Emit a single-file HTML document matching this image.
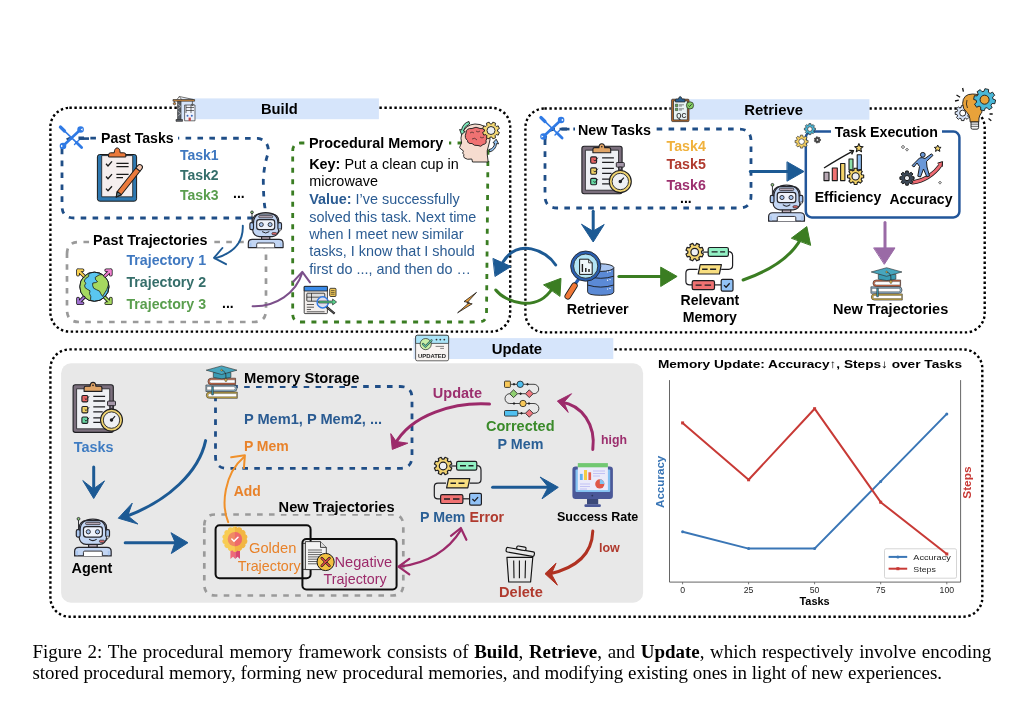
<!DOCTYPE html>
<html><head><meta charset="utf-8">
<style>
html,body{margin:0;padding:0;background:#fff;width:1024px;height:713px;overflow:hidden}
svg{position:absolute;left:0;top:0;will-change:transform}
text{font-family:"Liberation Sans",sans-serif}
.b{font-weight:bold}
.cap{font-family:"Liberation Serif",serif;font-size:18.95px;fill:#000}
</style></head><body>
<svg width="1024" height="713" viewBox="0 0 1024 713">
<defs>
<filter id="rough" x="-10%" y="-10%" width="120%" height="120%">
<feTurbulence type="fractalNoise" baseFrequency="0.9" numOctaves="2" seed="3" result="n"/>
<feDisplacementMap in="SourceGraphic" in2="n" scale="1.2" xChannelSelector="R" yChannelSelector="G"/>
</filter>
<!-- robot: local box 0..36 x 0..37 -->
<g id="robot" stroke="#26262c" stroke-width="1.15" stroke-linejoin="round">
<line x1="4.3" y1="1.5" x2="4.3" y2="11" stroke-width="0.9"/>
<circle cx="4.3" cy="1.3" r="1.35" fill="#8cc878" stroke-width="0.8"/>
<rect x="13.9" y="24.5" width="8.2" height="4" fill="#b8a8b4"/>
<rect x="5" y="3" width="26" height="22.6" rx="6.5" fill="#c3d6f4"/>
<path d="M5.8 12.5 Q5.8 1.6 18 1.6 Q30.2 1.6 30.2 12.5" fill="none" stroke-width="1.1"/>
<rect x="11" y="4.6" width="14" height="2.2" rx="1" fill="#b8a8b4" stroke-width="0.7"/>
<rect x="2.2" y="11.6" width="3.6" height="7" rx="1.4" fill="#a9c6f0"/>
<rect x="30.2" y="11.6" width="3.6" height="7" rx="1.4" fill="#a9c6f0"/>
<rect x="9" y="8.6" width="18" height="10" rx="2.6" fill="#eef2fb"/>
<circle cx="13.6" cy="13.6" r="2" fill="#a9c6f0" stroke-width="0.9"/>
<circle cx="22.4" cy="13.6" r="2" fill="#a9c6f0" stroke-width="0.9"/>
<path d="M14.4 20.6 Q18 23.4 21.6 20.6" fill="none" stroke-width="1"/>
<path d="M32 18.6 Q32 22.2 29 22.6" fill="none" stroke-width="0.9"/>
<circle cx="32.2" cy="18.8" r="1.1" fill="#fff" stroke-width="0.6"/>
<rect x="24.2" y="21.6" width="4.8" height="2.1" rx="1" fill="#e46a6a" stroke-width="0.7"/>
<path d="M0.6 36.6 V32.2 Q0.6 28.4 4.6 28.4 H31.4 Q35.4 28.4 35.4 32.2 V36.6 Z" fill="#c3d6f4"/>
<path d="M9 36.6 V33.2 Q9 32 10.2 32 H25.8 Q27 32 27 33.2 V36.6" fill="#fff" stroke-width="0.9"/>
<path d="M3 36 V31.8 M33 36 V31.8" stroke="#a9c6f0" stroke-width="1.6"/>
</g>
<!-- clipboard with stopwatch: local origin = (72.7,381.8) -->
<g id="clipsw" stroke="#1e1e22" stroke-width="1.1" stroke-linejoin="round">
<rect x="0.4" y="3" width="40.2" height="47.6" rx="2.2" fill="#7b6f7d"/>
<rect x="3.9" y="7" width="33.1" height="40" fill="#eef0f4" stroke-width="0.8"/>
<path d="M11.4 9.6 H29.2 V6.2 Q29.2 4.4 27.4 4.4 H23.2 Q23 0.6 20.3 0.6 Q17.6 0.6 17.4 4.4 H13.2 Q11.4 4.4 11.4 6.2 Z" fill="#e0a466"/>
<circle cx="20.3" cy="3.6" r="0.8" fill="#1e1e22" stroke="none"/>
<rect x="9.2" y="13.7" width="5.9" height="6.4" rx="1.2" fill="#e86464"/>
<rect x="9.2" y="24.7" width="5.9" height="6.4" rx="1.2" fill="#f0d266"/>
<rect x="9.2" y="35.2" width="5.9" height="6.4" rx="1.2" fill="#68d8a4"/>
<path d="M12 16.5 l1.4 1.4 l3 -3.4 M12 27.5 l1.4 1.4 l3 -3.4 M12 38 l1.4 1.4 l3 -3.4" fill="none" stroke-width="0.9"/>
<path d="M20.6 14.6 H32.4 M20.6 19.2 H32.4 M20.6 25.1 H32.4 M20.6 30.1 H30 M20.6 36 H28 M20.6 40.6 H28" fill="none" stroke-width="1.3"/>
<rect x="34.8" y="19.3" width="8" height="4.6" rx="0.8" fill="#a496a8" stroke-width="0.9"/>
<rect x="37.6" y="23.9" width="2.4" height="2.6" fill="#a496a8" stroke-width="0.7"/>
<circle cx="38.8" cy="38.3" r="11" fill="#f0d470" stroke-width="1.1"/>
<circle cx="38.8" cy="38.3" r="8.2" fill="#eef0f4" stroke-width="0.9"/>
<path d="M38.8 38.3 L42.4 34.4" stroke-width="1.2"/>
<circle cx="38.8" cy="38.3" r="1.2" fill="#1e1e22"/>
</g>
<!-- flowchart (P Mem): local origin (425,450) -->
<g id="flow" stroke="#1e1e22" stroke-width="1.2" stroke-linejoin="round" fill="none">
<path d="M51.8 15.6 Q56 15.6 56 20 V29.5 Q56 33.2 52 33.2 H44.6"/>
<path d="M21 33.2 H13 Q9.3 33.2 9.3 37 V45.5 Q9.3 48.8 13 48.8 H15.6"/>
<path d="M37.9 48.8 H44.6"/>
<path d="M26 16 H31.6"/>
<path d="M24.95 16.84 L26.79 17.94 L25.61 20.77 L23.54 20.25 L22.35 21.44 L22.87 23.51 L20.04 24.69 L18.94 22.85 L17.26 22.85 L16.16 24.69 L13.33 23.51 L13.85 21.44 L12.66 20.25 L10.59 20.77 L9.41 17.94 L11.25 16.84 L11.25 15.16 L9.41 14.06 L10.59 11.23 L12.66 11.75 L13.85 10.56 L13.33 8.49 L16.16 7.31 L17.26 9.15 L18.94 9.15 L20.04 7.31 L22.87 8.49 L22.35 10.56 L23.54 11.75 L25.61 11.23 L26.79 14.06 L24.95 15.16 Z" fill="#f2d472"/>
<circle cx="18.1" cy="16" r="3.8" fill="#eef0f4"/>
<rect x="31.6" y="11.4" width="20.2" height="8.8" rx="1.6" fill="#92f0c4"/>
<path d="M23.6 28.6 H44.8 L42.8 37.9 H21.6 Z" fill="#f8de80"/>
<rect x="15.6" y="44.6" width="22.3" height="8.9" rx="1.6" fill="#f07272"/>
<rect x="44.6" y="43.3" width="11.8" height="11.8" rx="1.4" fill="#92c2f6"/>
<path d="M35 15.8 H41 M43.5 15.8 H48.5 M25.5 33.2 H31 M33.5 33.2 H39.5 M19 49 H25 M28 49 H34.5" stroke-width="1.4"/>
<path d="M47.4 49 l2.1 2.1 l3.6 -4" stroke-width="1.3"/>
</g>
<!-- books with grad cap: local origin (871,267.5), size ~32x33 -->
<g id="books" stroke="#2a2a2a" stroke-width="0.6" stroke-linejoin="round">
<path d="M31.7 26.5 H3.8 A3.1 3.1 0 0 0 3.8 32.7 H31.7 Z" fill="#d6b648"/>
<path d="M31 28 H4 A1.6 1.6 0 0 0 4 31.2 H31 Z" fill="#fff" stroke-width="0.4"/>
<path d="M0.3 19.4 H28.2 A3.25 3.25 0 0 1 28.2 25.9 H0.3 Z" fill="#8fb4cc"/>
<path d="M1.2 21 H28 A1.65 1.65 0 0 1 28 24.3 H1.2 Z" fill="#fff" stroke-width="0.4"/>
<path d="M30 12.6 H5.6 A3.25 3.25 0 0 0 5.6 19.1 H30 Z" fill="#d46c48"/>
<path d="M29.4 14.2 H5.6 A1.65 1.65 0 0 0 5.6 17.5 H29.4 Z" fill="#fff" stroke-width="0.4"/>
<rect x="6.1" y="21" width="1.7" height="8.4" fill="#3a9cb4" stroke-width="0.5"/>
<path d="M7.7 7 V11.8 Q16 14.6 25.3 11.8 V7 Z" fill="#3a9cb4"/>
<path d="M0.6 4.6 L16 0.3 L31.4 4.6 L16 8.9 Z" fill="#47a6be"/>
<path d="M16 4.6 Q20.6 6 20.3 10.5 V13.6" fill="none" stroke="#222" stroke-width="0.7"/>
<rect x="19.3" y="12.8" width="2" height="3.2" rx="0.8" fill="#e8c050" stroke-width="0.5"/>
<circle cx="16" cy="4.6" r="0.9" fill="#e8c050" stroke-width="0.4"/>
</g>
</defs>
<!-- ===== outer dotted boxes ===== -->
<g fill="none" stroke="#000" stroke-width="2.4" stroke-dasharray="2.4 2.6">
<rect x="50.4" y="107.8" width="459.8" height="223.8" rx="19"/>
<rect x="525.4" y="108.5" width="459.3" height="223.9" rx="19"/>
<rect x="50.4" y="349.4" width="931.9" height="267.3" rx="19"/>
</g>
<!-- header bars -->
<rect x="181" y="98.4" width="197.9" height="20.8" fill="#d6e5fb"/>
<rect x="670.7" y="99.2" width="198.7" height="20.5" fill="#d6e5fb"/>
<rect x="413.5" y="338.1" width="199.8" height="20.9" fill="#d6e5fb"/>
<text class="b" x="261" y="114" font-size="14.7">Build</text>
<text class="b" x="744.3" y="115" font-size="14.9">Retrieve</text>
<text class="b" x="491.7" y="354" font-size="14.9">Update</text>

<!-- update gray panel -->
<rect x="61.1" y="363.2" width="582" height="239.6" rx="10" fill="#e8e8e8"/>

<!-- ===== BUILD ===== -->
<path d="M62 150 Q62 138 74 138 L258 138.3 Q268.5 140 268.5 152 Q264 165 263.3 180 Q263.5 200 265 208 Q265 218 256 218 L74 218 Q62 218 62 206 Z" fill="none" stroke="#1f4e87" stroke-width="2.8" stroke-dasharray="5.6 6.3"/>
<path d="M67 254 Q67 242 79 242 L254 242 Q266 242 266 254 L266 310 Q266 322 254 322 L79 322 Q67 322 67 310 Z" fill="none" stroke="#9a9a9a" stroke-width="2.7" stroke-dasharray="5.6 6.3"/>
<path d="M292.7 151 Q292.7 143 300.7 143 L479 143 Q488 143 488 151 L486.5 314 Q486.5 322 478.5 322 L300.7 322 Q292.7 322 292.7 314 Z" fill="none" stroke="#3a7d22" stroke-width="2.8" stroke-dasharray="5 6.3"/>

<rect x="98" y="131" width="80" height="16" fill="#fff"/>
<text class="b" x="101" y="142.8" font-size="14.1">Past Tasks</text>
<text class="b" x="180" y="160" font-size="14" fill="#3f78c0">Task1</text>
<text class="b" x="180" y="179.7" font-size="14" fill="#356e6a">Task2</text>
<text class="b" x="180" y="200.1" font-size="14" fill="#5a9e4e">Task3</text>
<text class="b" x="233" y="198" font-size="14">...</text>
<rect x="90" y="232" width="122" height="16" fill="#fff"/>
<text class="b" x="93" y="245" font-size="14.3">Past Trajectories</text>
<text class="b" x="126.4" y="265" font-size="14.2" fill="#3f78c0">Trajectory 1</text>
<text class="b" x="126.4" y="286.7" font-size="14.2" fill="#356e6a">Trajectory 2</text>
<text class="b" x="126.4" y="308.6" font-size="14.2" fill="#5a9e4e">Trajectory 3</text>
<text class="b" x="222" y="308" font-size="14">...</text>

<rect x="306" y="135" width="143" height="16" fill="#fff"/>
<text class="b" x="309" y="147.6" font-size="14.4">Procedural Memory</text>
<g font-size="14.4" transform="translate(-0.8,0)">
<text x="310" y="169"><tspan class="b">Key:</tspan> Put a clean cup in</text>
<text x="310" y="186.4">microwave</text>
<text x="310" y="204" fill="#2a5b92"><tspan class="b">Value:</tspan> I’ve successfully</text>
<text x="310" y="221.8" fill="#2a5b92">solved this task. Next time</text>
<text x="310" y="238.5" fill="#2a5b92">when I meet new similar</text>
<text x="310" y="255.7" fill="#2a5b92">tasks, I know that I should</text>
<text x="310" y="273.5" fill="#2a5b92">first do ..., and then do …</text>
</g>

<!-- ===== RETRIEVE ===== -->
<path d="M545 141 Q545 129 557 129 L739 129 Q751 129 751 141 L751 196 Q751 208 739 208 L557 208 Q545 208 545 196 Z" fill="none" stroke="#1f4e87" stroke-width="2.8" stroke-dasharray="5.6 6.3"/>
<rect x="575" y="122" width="80" height="16" fill="#fff"/>
<text class="b" x="578" y="135" font-size="14.3">New Tasks</text>
<text class="b" x="666.6" y="150.6" font-size="14.2" fill="#f0b13c">Task4</text>
<text class="b" x="666.6" y="169" font-size="14.2" fill="#b03a2e">Task5</text>
<text class="b" x="666.6" y="189.7" font-size="14.2" fill="#9c2f6e">Task6</text>
<text class="b" x="680" y="203" font-size="14">...</text>
<text class="b" x="566.7" y="314" font-size="14.3">Retriever</text>
<text class="b" x="680.5" y="305" font-size="14.1">Relevant</text>
<text class="b" x="682.7" y="322.3" font-size="14.1">Memory</text>

<rect x="805.8" y="131.6" width="153.6" height="85.8" rx="6" fill="none" stroke="#24579a" stroke-width="2.5" filter="url(#rough)"/>
<rect x="831" y="124" width="111" height="16" fill="#fff"/>
<text class="b" x="834.8" y="136.8" font-size="14.2">Task Execution</text>
<text class="b" x="814.7" y="202.3" font-size="14.1">Efficiency</text>
<text class="b" x="889.4" y="203.5" font-size="14">Accuracy</text>
<text class="b" x="833" y="314.2" font-size="14.5">New Trajectories</text>

<!-- ===== UPDATE ===== -->
<text class="b" x="73.7" y="452.4" font-size="14.4" fill="#3f7cc2">Tasks</text>
<text class="b" x="71.5" y="572.7" font-size="14.4">Agent</text>
<path d="M215.5 398 Q215.5 386.5 227 386.5 L400 386.5 Q412 386.5 412 398 L412 456.5 Q412 468.4 400 468.4 L227 468.4 Q215.5 468.4 215.5 456.5 Z" fill="none" stroke="#1f4e87" stroke-width="2.8" stroke-dasharray="5.6 6.3"/>
<rect x="242" y="370" width="120" height="16" fill="#e8e8e8"/>
<text class="b" x="243.9" y="383.4" font-size="14.75">Memory Storage</text>
<text class="b" x="243.9" y="424" font-size="14.6" fill="#2a5b92">P Mem1, P Mem2, ...</text>
<text class="b" x="243.9" y="451" font-size="14" fill="#e8822a">P Mem</text>
<text class="b" x="233.7" y="496.3" font-size="13.9" fill="#e8822a">Add</text>
<path d="M204.3 525.5 Q204.3 514.5 215.3 514.5 L392.3 514.5 Q403.3 514.5 403.3 525.5 L403.3 584.5 Q403.3 595.5 392.3 595.5 L215.3 595.5 Q204.3 595.5 204.3 584.5 Z" fill="none" stroke="#9a9a9a" stroke-width="2.7" stroke-dasharray="5.6 6.3"/>
<rect x="275" y="498" width="123" height="16" fill="#e8e8e8"/>
<text class="b" x="278.6" y="511.5" font-size="14.6">New Trajectories</text>
<rect x="215.6" y="525.2" width="95" height="53" rx="4" fill="none" stroke="#111" stroke-width="2" filter="url(#rough)"/>
<rect x="302.4" y="539" width="94.2" height="50.5" rx="4" fill="none" stroke="#111" stroke-width="2" filter="url(#rough)"/>
<text x="249" y="553.2" font-size="14.7" fill="#e8822a">Golden</text>
<text x="237.7" y="571" font-size="14.3" fill="#e8822a">Trajectory</text>
<text x="334.5" y="567.2" font-size="14.6" fill="#9c2a6a">Negative</text>
<text x="323.6" y="584" font-size="14.3" fill="#9c2a6a">Trajectory</text>
<text class="b" x="432.8" y="398" font-size="14.5" fill="#9c2f6e">Update</text>
<text class="b" x="486" y="431" font-size="14.5" fill="#3a8a2a">Corrected</text>
<text class="b" x="497.6" y="448.6" font-size="14.3" fill="#2a5f95">P Mem</text>
<text class="b" x="601" y="444.4" font-size="12.3" fill="#9c2f6e">high</text>
<text class="b" x="420" y="521.5" font-size="14.2" fill="#2a5f95">P Mem <tspan fill="#b03a2e">Error</tspan></text>
<text class="b" x="557" y="521" font-size="12.5">Success Rate</text>
<text class="b" x="599" y="551.7" font-size="12.5" fill="#b03a2e">low</text>
<text class="b" x="499" y="597.2" font-size="14.6" fill="#b03a2e">Delete</text>

<!-- ===== CHART ===== -->
<g id="chart">
<text class="b" x="657.9" y="368.1" font-size="11.4" textLength="304.1" lengthAdjust="spacingAndGlyphs">Memory Update: Accuracy↑, Steps↓ over Tasks</text>
<path d="M669.5 380.1 V582.1 H960.6 V380.1" fill="none" stroke="#555" stroke-width="0.9"/>
<path d="M682.6 582.1 v2.2 M748.6 582.1 v2.2 M814.6 582.1 v2.2 M880.7 582.1 v2.2 M946.8 582.1 v2.2" stroke="#555" stroke-width="0.8"/>
<polyline points="682.6,531.7 748.6,548.6 814.6,548.6 880.7,481.4 946.8,413.9" fill="none" stroke="#3a76b6" stroke-width="2" stroke-linejoin="round"/>
<circle cx="682.6" cy="531.7" r="1.5" fill="#3a76b6"/><circle cx="748.6" cy="548.6" r="1.5" fill="#3a76b6"/><circle cx="814.6" cy="548.6" r="1.5" fill="#3a76b6"/><circle cx="880.7" cy="481.4" r="1.5" fill="#3a76b6"/><circle cx="946.8" cy="413.9" r="1.5" fill="#3a76b6"/>
<rect x="884.5" y="548.8" width="72" height="29.4" rx="1.5" fill="#fff" fill-opacity="0.85" stroke="#d0d0d0" stroke-width="0.9"/>
<line x1="888.6" y1="556.9" x2="907.2" y2="556.9" stroke="#3a76b6" stroke-width="2"/>
<circle cx="897.9" cy="556.9" r="1.5" fill="#3a76b6"/>
<line x1="888.6" y1="568.7" x2="907.2" y2="568.7" stroke="#c83a36" stroke-width="2"/>
<rect x="896.4" y="567.2" width="3" height="3" fill="#c83a36"/>
<text x="913.3" y="559.8" font-size="8" fill="#262626" textLength="37.5" lengthAdjust="spacingAndGlyphs">Accuracy</text>
<text x="913.3" y="571.6" font-size="8" fill="#262626" textLength="22.6" lengthAdjust="spacingAndGlyphs">Steps</text>
<polyline points="682.6,422.9 748.6,479.8 814.6,408.7 880.7,502.2 946.8,554" fill="none" stroke="#c83a36" stroke-width="2" stroke-linejoin="round"/>
<rect x="681.1" y="421.4" width="3" height="3" fill="#c83a36"/><rect x="747.1" y="478.3" width="3" height="3" fill="#c83a36"/><rect x="813.1" y="407.2" width="3" height="3" fill="#c83a36"/><rect x="879.2" y="500.7" width="3" height="3" fill="#c83a36"/><rect x="945.3" y="552.5" width="3" height="3" fill="#c83a36"/>
<g font-size="8.7" fill="#262626" text-anchor="middle">
<text x="682.7" y="593.4">0</text><text x="748.6" y="593.4">25</text><text x="814.6" y="593.4">50</text><text x="880.7" y="593.4">75</text><text x="946.8" y="593.4">100</text>
</g>
<text class="b" x="799.4" y="605.2" font-size="10.5" textLength="30.3" lengthAdjust="spacingAndGlyphs">Tasks</text>
<text class="b" font-size="10.4" fill="#3a76b6" text-anchor="middle" textLength="52.3" lengthAdjust="spacingAndGlyphs" transform="translate(664.4,481.85) rotate(-90)">Accuracy</text>
<text class="b" font-size="10.6" fill="#c83a36" text-anchor="middle" textLength="32.4" lengthAdjust="spacingAndGlyphs" transform="translate(971,482.6) rotate(-90)">Steps</text>
</g>

<!-- ===== ARROWS ===== -->
<g fill="none" stroke-linecap="round" stroke-linejoin="round" filter="url(#rough)">
<!-- build -->
<path d="M242.8 225.6 C243.5 242, 234 253, 215 258.4" stroke="#1f5a94" stroke-width="1.9"/>
<path d="M222.4 248 L214 257.9 L226 264.2" stroke="#1f5a94" stroke-width="1.9"/>
<path d="M252.6 306.2 C276 307, 296 293, 302.3 272.6" stroke="#7b4f8a" stroke-width="2"/>
<path d="M293.2 281.7 L302.3 271.9 L310 282.4" stroke="#7b4f8a" stroke-width="2"/>
<!-- between -->
<path d="M555.7 265 C546 250, 518 238, 503 262" stroke="#1f5a94" stroke-width="3"/>
<path d="M493.3 258.6 L511 266.5 L495.3 276.3 Z" fill="#1f5a94" stroke="#1f5a94" stroke-width="1"/>
<path d="M495.8 290 C505 302, 536 313, 552 289" stroke="#3a7d22" stroke-width="3"/>
<path d="M543.9 284.7 L561 278.3 L560 296 Z" fill="#3a7d22" stroke="#3a7d22" stroke-width="1"/>
<!-- retrieve -->
<path d="M593.2 211.2 V236" stroke="#1f5a94" stroke-width="3"/>
<path d="M581.7 224.5 L593.2 242 L604.2 224.5 L593.2 231 Z" fill="#1f5a94" stroke="#1f5a94" stroke-width="1"/>
<path d="M618.9 276.4 H665" stroke="#3a7d22" stroke-width="3"/>
<path d="M661 267.3 L677.1 276.4 L661 286.3 Z" fill="#3a7d22" stroke="#3a7d22" stroke-width="1"/>
<path d="M743.1 280 C766 272, 790 259, 801 238.5" stroke="#3a7d22" stroke-width="3"/>
<path d="M791.6 238 L806.8 226.6 L810.6 245 Z" fill="#3a7d22" stroke="#3a7d22" stroke-width="1"/>
<path d="M750.3 171.5 H790" stroke="#1f5a94" stroke-width="3"/>
<path d="M787.3 162 L804 171.5 L787.3 181 Z" fill="#1f5a94" stroke="#1f5a94" stroke-width="1"/>
<path d="M885 222.6 V250" stroke="#9a6aa6" stroke-width="3"/>
<path d="M874 247.9 L895 247.9 L884.5 264 Z" fill="#9a6aa6" stroke="#9a6aa6" stroke-width="1"/>
<!-- update -->
<path d="M93.7 467.1 V492" stroke="#1f5a94" stroke-width="3"/>
<path d="M83 480.9 L93.7 498.5 L104.5 480.9 L93.7 488.7 Z" fill="#1f5a94" stroke="#1f5a94" stroke-width="1"/>
<path d="M205.6 440.6 C199 472, 168 501, 126 516.5" stroke="#1f5a94" stroke-width="3"/>
<path d="M132 503.4 L118.3 518.2 L137.9 524 L128 516 Z" fill="#1f5a94" stroke="#1f5a94" stroke-width="1"/>
<path d="M125.2 542.7 H176" stroke="#1f5a94" stroke-width="3"/>
<path d="M171.3 532.9 L188 542.7 L171.3 553.5 L175 542.7 Z" fill="#1f5a94" stroke="#1f5a94" stroke-width="1"/>
<path d="M228.2 522.1 C221 505, 224 474, 244 457" stroke="#f0902a" stroke-width="2"/>
<path d="M231.2 457.3 L244.9 455.3 L243.9 468.1" stroke="#f0902a" stroke-width="2"/>
<path d="M489.5 404.1 C455 402, 411 414, 394.5 445" stroke="#9c2a6a" stroke-width="3"/>
<path d="M390.8 434 L392.3 449.4 L407.8 443.2 L396.5 441.5 Z" fill="#9c2a6a" stroke="#9c2a6a" stroke-width="1"/>
<path d="M592.8 449.4 C596 425, 582 405, 561 402" stroke="#9c2a6a" stroke-width="3"/>
<path d="M571.2 393.9 L557.4 401 L568.2 412.4 L564 402.5 Z" fill="#9c2a6a" stroke="#9c2a6a" stroke-width="1"/>
<path d="M492.6 487.3 H548" stroke="#1f5a94" stroke-width="3"/>
<path d="M540.4 477.2 L558.3 487.3 L542 498.8 L548.1 487.3 Z" fill="#1f5a94" stroke="#1f5a94" stroke-width="1"/>
<path d="M592.8 531.1 C592 555, 576 568, 549 574" stroke="#b03020" stroke-width="3"/>
<path d="M555.8 563.5 L545 573.7 L557.4 585.1 L551.5 574.2 Z" fill="#b03020" stroke="#b03020" stroke-width="1"/>
<path d="M400 566.6 Q442 561, 461.2 529.6" stroke="#9c2a6a" stroke-width="2.2"/>
<path d="M409.3 558.9 L398.5 566.6 L409.3 574.3" stroke="#9c2a6a" stroke-width="2.2"/>
<path d="M451 535.8 L460.8 528 L466.4 539.8" stroke="#9c2a6a" stroke-width="2.2"/>
</g>

<!-- ===== ICONS ===== -->
<!-- tools symbol uses -->
<g id="tools-b">
<g stroke="#2f7ae5" stroke-linecap="round" fill="none">
<line x1="61" y1="127.6" x2="81.6" y2="147.4" stroke-width="1.5"/>
<line x1="60.4" y1="127" x2="64.5" y2="131" stroke-width="3.2"/>
<line x1="76.5" y1="142.4" x2="81.6" y2="147.4" stroke-width="2.8"/>
<line x1="74.5" y1="144.5" x2="79" y2="140" stroke-width="1.4"/>
<line x1="63.5" y1="145.5" x2="80" y2="130" stroke-width="2.6"/>
</g>
<circle cx="80.6" cy="129.5" r="3.3" fill="#2f7ae5"/>
<circle cx="63" cy="146" r="3.3" fill="#2f7ae5"/>
<path d="M80.6 129.5 l2 -1.2 v2.4 z M63 146 l-2 1.2 v-2.4 z" fill="#fff"/>
<rect x="79" y="137.3" width="10" height="2.6" fill="#1f4e87"/>
</g>
<use href="#tools-b" transform="translate(480.5,-9.5)"/>

<!-- crane -->
<g stroke="#333" stroke-width="0.7" stroke-linejoin="round">
<rect x="184.6" y="105" width="10.4" height="15.8" fill="#eef2fb"/>
<path d="M186 105 V113 M191 105 V113 M186 107.5 H194 M186 110.5 H194" fill="none"/>
<circle cx="187.5" cy="115.7" r="1" fill="#3a6ac0" stroke="none"/>
<circle cx="191.8" cy="115.7" r="1" fill="#3a6ac0" stroke="none"/>
<rect x="188.6" y="117.6" width="2.2" height="3.2" fill="#c04040" stroke="none"/>
<rect x="177.6" y="101" width="3.4" height="19.2" fill="#5a6068"/>
<path d="M177.6 104 L181 106.5 M181 106.5 L177.6 109 M177.6 111 L181 113.5 M181 113.5 L177.6 116" stroke="#ddd" stroke-width="0.5"/>
<rect x="173" y="99.5" width="21.6" height="1.7" fill="#d48a3a"/>
<path d="M177 99.5 L179.3 96.5 L181.6 99.5 M179.3 96.5 L193.5 99.5" fill="none"/>
<line x1="174.5" y1="101.2" x2="174.5" y2="102.8"/>
<circle cx="174.5" cy="103.6" r="1.2" fill="#d48a3a"/>
<line x1="192.4" y1="101.2" x2="192.4" y2="104.6"/>
<path d="M191.4 104.4 h2 l-1 1.6 z" fill="#ccc"/>
<rect x="176" y="119.5" width="6.6" height="1.8" fill="#5a6068"/>
</g>

<!-- clipboard + pencil (build) -->
<g stroke="#1a1a1a" stroke-width="1" stroke-linejoin="round">
<rect x="97.4" y="154.5" width="39.2" height="46.7" rx="2.4" fill="#2e78b0"/>
<rect x="101.7" y="155.6" width="31" height="41.2" fill="#f5eeee" stroke-width="0.8"/>
<path d="M108.6 157 H125.8 V154.8 Q125.8 152.8 123.8 152.8 H120.2 Q119.8 147.9 117.2 147.9 Q114.6 147.9 114.2 152.8 H110.6 Q108.6 152.8 108.6 154.8 Z" fill="#ec7a3c"/>
<path d="M106 163.8 l2 2.2 l4 -4.6 M106 176.5 l2 2.2 l4 -4.6 M106 188.6 l2 2.2 l4 -4.6" fill="none" stroke-width="1.3"/>
<path d="M116.4 163.3 H128.6 M116.4 166.6 H128.6 M116.4 174.3 H128.6 M116.4 177.6 H123" fill="none" stroke-width="1.3"/>
<g transform="translate(116.2,197) rotate(-51.6)">
<path d="M0 0 L5 -2.6 H35 V2.6 H5 Z" fill="#ec7a3c"/>
<path d="M0 0 L5 -2.6 V2.6 Z" fill="#5a7a88"/>
<path d="M35 -2.6 H38 Q40.6 -2.6 40.6 0 Q40.6 2.6 38 2.6 H35 Z" fill="#f6c8b0"/>
</g>
</g>

<!-- globe -->
<g stroke="#1a1a1a" stroke-width="0.9" stroke-linejoin="round">
<circle cx="94.4" cy="286.7" r="14.6" fill="#5ac6f0"/>
<clipPath id="gclip"><circle cx="94.4" cy="286.7" r="14.2"/></clipPath>
<g clip-path="url(#gclip)" stroke-width="0.8">
<path d="M78 272 L89.5 272 Q88.5 275 88.6 276.6 Q85.5 278 84.6 280 Q83.8 282 86 283.2 Q83.8 285 85 287.6 Q87.2 289.4 90 290.8 Q88.6 293.6 90.8 296.6 Q90.2 299 91 302 L78 302 Z" fill="#a6d860"/>
<path d="M95.2 277.4 Q99 274 103.2 274.4 Q107.4 276 108.8 281 Q108.6 286 106.8 289.6 Q104.6 293 102.6 296.4 Q100.4 293.6 99.6 291.2 Q96.2 289.6 93.6 288.2 Q92 285.2 92.8 283 Q96.4 282.8 97.6 281.6 Q95 280.2 95.2 277.4 Z" fill="#a6d860"/>
</g>
<circle cx="94.4" cy="286.7" r="14.6" fill="none"/>
<path d="M83.7 275.8 L78 270.2 M78 270.2 l0 4.6 M78 270.2 l4.6 0" fill="none" stroke="#1a1a1a" stroke-width="3.6" stroke-linecap="round"/>
<path d="M83.7 275.8 L78 270.2 M78 270.2 l0 4.6 M78 270.2 l4.6 0" fill="none" stroke="#f8d050" stroke-width="2" stroke-linecap="round"/>
<path d="M105.1 275.8 L110.8 270.2 M110.8 270.2 l0 4.6 M110.8 270.2 l-4.6 0" fill="none" stroke="#1a1a1a" stroke-width="3.6" stroke-linecap="round"/>
<path d="M105.1 275.8 L110.8 270.2 M110.8 270.2 l0 4.6 M110.8 270.2 l-4.6 0" fill="none" stroke="#f080d0" stroke-width="2" stroke-linecap="round"/>
<path d="M83.7 297.6 L78 303.2 M78 303.2 l0 -4.6 M78 303.2 l4.6 0" fill="none" stroke="#1a1a1a" stroke-width="3.6" stroke-linecap="round"/>
<path d="M83.7 297.6 L78 303.2 M78 303.2 l0 -4.6 M78 303.2 l4.6 0" fill="none" stroke="#a070d0" stroke-width="2" stroke-linecap="round"/>
<path d="M105.1 297.6 L110.8 303.2 M110.8 303.2 l0 -4.6 M110.8 303.2 l-4.6 0" fill="none" stroke="#1a1a1a" stroke-width="3.6" stroke-linecap="round"/>
<path d="M105.1 297.6 L110.8 303.2 M110.8 303.2 l0 -4.6 M110.8 303.2 l-4.6 0" fill="none" stroke="#a6d860" stroke-width="2" stroke-linecap="round"/>
</g>

<!-- brain head -->
<g stroke="#1a1a1a" stroke-width="0.9" stroke-linejoin="round">
<path d="M461.8 133.5 Q466 124.5 475 124 Q486 124 489.5 133 Q491 140 488.5 146 Q486.5 151 487.3 155 L488.2 162 H472.5 L471.8 159 Q467 160 464.5 158 Q463.2 156.5 463.8 154.5 L462.6 153 L463.4 151.6 L462.6 150 Q460.6 149.4 459.6 147.5 Q460.4 145 461.6 143 Q460.2 138 461.8 133.5 Z" fill="#f6dccf"/>
<path d="M466 133 Q466 128 472 128.5 Q476 126 480 128.5 Q486 128 486 134 Q489 137 486 140.5 Q487 144 483 144.5 Q481 147.5 478 145.5 Q474 146 472 143.5 Q467.5 144 467.5 140.5 Q464 138 466 133 Z" fill="#f07272"/>
<path d="M470 133 q2 -2 4 0 M476 131 q2 2 4 0 M472 139 q3 -2 5 1 M480 137 q2 2 4 0" fill="none" stroke-width="0.6"/>
<path d="M497.55 131.31 L499.39 132.38 L498.26 135.11 L496.20 134.56 L495.06 135.70 L495.61 137.76 L492.88 138.89 L491.81 137.05 L490.19 137.05 L489.12 138.89 L486.39 137.76 L486.94 135.70 L485.80 134.56 L483.74 135.11 L482.61 132.38 L484.45 131.31 L484.45 129.69 L482.61 128.62 L483.74 125.89 L485.80 126.44 L486.94 125.30 L486.39 123.24 L489.12 122.11 L490.19 123.95 L491.81 123.95 L492.88 122.11 L495.61 123.24 L495.06 125.30 L496.20 126.44 L498.26 125.89 L499.39 128.62 L497.55 129.69 Z" fill="#f4d874"/>
<circle cx="491" cy="130.5" r="4" fill="#eceef2"/>
<path d="M469 121.5 Q463 123 461.5 130 L459.6 129.5 L461.6 134.6 L465.2 131.5 L463.4 131 Q464.5 126 469.6 124 Z" fill="#7ae4b8"/>
<path d="M489.6 152 Q496 150 496.5 143.6 L498.6 143.8 L496.2 139.2 L493 142.8 L494.6 143.2 Q494 148.6 489 149.6 Z" fill="#94c4f4"/>
</g>

<!-- search doc -->
<g stroke="#1a1a1a" stroke-width="0.8" stroke-linejoin="round">
<rect x="304.2" y="286.4" width="23.2" height="27.2" rx="0.8" fill="#f2eeec"/>
<rect x="304.2" y="286.4" width="23.2" height="4.6" fill="#3a8ae8"/>
<rect x="306.8" y="293.2" width="18" height="8" rx="0.8" fill="#ddd"/>
<path d="M306.8 297.2 H324.8 M311.5 293.2 V301.2 M306.8 304.5 H314 M306.8 307.2 H314 M306.8 309.5 H311 M306.8 311.8 H324.6" fill="none" stroke-width="0.7"/>
<rect x="329.7" y="288.3" width="6.3" height="8.2" rx="1" fill="#f0c85a"/>
<path d="M331 290.6 h3.6 M331 292.4 h3.6 M331 294.2 h3.6" stroke-width="0.6"/>
<line x1="326.2" y1="306.6" x2="334.6" y2="313.6" stroke-width="2.2"/>
<line x1="326.2" y1="306.6" x2="334.6" y2="313.6" stroke="#666" stroke-width="1"/>
<circle cx="322.7" cy="302.4" r="5.6" fill="#dde" stroke="#2f7ae5" stroke-width="1.4"/>
<path d="M318.6 301 H332.6 V299 L336.6 302 L332.6 305 V303 H318.6 Z" fill="#58d08c" stroke-width="0.6"/>
</g>

<!-- lightning -->
<path d="M476.5 292.4 L464 301.6 L469.4 302.4 L457.6 312.8 L472.2 303.8 L466.8 303 Z" fill="#f2a23a" stroke="#1a1a1a" stroke-width="0.8" stroke-linejoin="round"/>

<!-- robots -->
<use href="#robot" transform="translate(247.7,211)"/>
<use href="#robot" transform="translate(768,183.5) scale(1.03)"/>
<use href="#robot" transform="translate(74,517.5) scale(1.05)"/>

<!-- clipboards with stopwatch -->
<use href="#clipsw" transform="translate(581.5,143.2)"/>
<use href="#clipsw" transform="translate(72.7,381.8)"/>

<!-- flowcharts -->
<use href="#flow" transform="translate(676.6,236.1)"/>
<use href="#flow" transform="translate(425,450)"/>

<!-- books -->
<use href="#books" transform="translate(870.6,267.4)"/>
<use href="#books" transform="translate(205.6,365.6)"/>


<!-- retriever -->
<g stroke="#1a1a1a" stroke-width="0.9" stroke-linejoin="round">
<path d="M587.6 267.6 V291.8 Q587.6 295.3 600.7 295.3 Q613.8 295.3 613.8 291.8 V267.6" fill="#5b8ad6"/>
<ellipse cx="600.7" cy="267.6" rx="13.1" ry="3.8" fill="#a9c5f1"/>
<path d="M587.6 276.2 Q600.7 280.4 613.8 276.2 M587.6 285 Q600.7 289.2 613.8 285" fill="none"/>
<path d="M607.5 280.2 h0.1 M610 279.6 h0.1 M607.5 289 h0.1 M610 288.4 h0.1 M607.5 272 h0.1 M610 271.4 h0.1" stroke="#fff" stroke-width="1.2" stroke-linecap="round"/>
<line x1="578.6" y1="279.2" x2="575" y2="284.4" stroke="#2a5fb0" stroke-width="3.2"/>
<line x1="574.4" y1="285.8" x2="567.8" y2="296.2" stroke="#1a1a1a" stroke-width="6.6" stroke-linecap="round"/>
<line x1="574.4" y1="285.8" x2="567.8" y2="296.2" stroke="#f07838" stroke-width="4.9" stroke-linecap="round"/>
<circle cx="585.7" cy="266.1" r="13.6" fill="#b3e5f5" stroke="#2a5fb0" stroke-width="3"/>
<circle cx="585.7" cy="266.1" r="15.1" fill="none" stroke-width="0.8"/>
<circle cx="585.7" cy="266.1" r="12.1" fill="none" stroke-width="0.8"/>
<path d="M579.6 259.2 H588.6 L592.2 262.8 V274.4 H579.6 Z" fill="#eef7fb" stroke-width="1"/>
<path d="M588.6 259.2 V262.8 H592.2" fill="none" stroke-width="0.8"/>
<path d="M582.4 264 V272 M585.8 268 V272 M589 269 V272" stroke-width="1.4"/>
</g>

<!-- QC clipboard -->
<g stroke="#222" stroke-width="0.7" stroke-linejoin="round">
<rect x="671.6" y="99.2" width="17.4" height="22.4" rx="1" fill="#b86a2a"/>
<rect x="673.5" y="100.8" width="13.9" height="19.1" fill="#e8f4f4"/>
<path d="M675.4 102 H685 V100 Q685 99 684 99 H682 Q681.5 96.5 680.2 96.5 Q678.9 96.5 678.4 99 H676.4 Q675.4 99 675.4 100 Z" fill="#2a6090"/>
<rect x="675.4" y="104.2" width="2.4" height="2.4" fill="#60b050" stroke-width="0.5"/>
<rect x="675.4" y="108.2" width="2.4" height="2.4" fill="#60b050" stroke-width="0.5"/>
<path d="M679 104.8 h5 M679 106 h3 M679 108.8 h5 M679 110 h3" stroke-width="0.5"/>
<text x="676.3" y="118" font-size="6.6" font-weight="bold" fill="#333" stroke="none">QC</text>
<circle cx="690" cy="105.4" r="3.6" fill="#84d064"/>
<path d="M688.3 105.4 l1.2 1.2 l2.2 -2.4" fill="none" stroke-width="0.8"/>
</g>

<!-- updated badge -->
<g stroke="#333" stroke-width="0.75" stroke-linejoin="round">
<rect x="415.6" y="335.3" width="33" height="25.5" rx="1.6" fill="#f8f4f2"/>
<path d="M415.6 343.4 V336.9 Q415.6 335.3 417.2 335.3 H447 Q448.6 335.3 448.6 336.9 V343.4 Z" fill="#aae4f8"/>
<circle cx="425.7" cy="344.1" r="5.6" fill="#c8f0a8"/>
<path d="M423 344 l2.4 2.6 l6 -6.2" fill="none" stroke="#333" stroke-width="2.2" stroke-linecap="round"/>
<path d="M423 344 l2.4 2.6 l6 -6.2" fill="none" stroke="#60c8a0" stroke-width="1.3" stroke-linecap="round"/>
<circle cx="436.5" cy="339.6" r="0.9" fill="#333" stroke="none"/>
<circle cx="440.3" cy="339.6" r="0.9" fill="#333" stroke="none"/>
<circle cx="444.3" cy="339.6" r="0.9" fill="#333" stroke="none"/>
<path d="M435.6 346.4 H444 M440.2 348.4 H444" stroke-width="0.6"/>
<text x="418" y="357.6" font-size="5.6" font-weight="bold" fill="#222" stroke="none" textLength="28" lengthAdjust="spacingAndGlyphs">UPDATED</text>
</g>

<!-- task exec gears -->
<g stroke="#333" stroke-width="0.7" stroke-linejoin="round">
<path d="M814.04 127.95 L815.42 128.14 L815.42 130.06 L814.04 130.25 L813.64 131.22 L814.48 132.32 L813.12 133.68 L812.02 132.84 L811.05 133.24 L810.86 134.62 L808.94 134.62 L808.75 133.24 L807.78 132.84 L806.68 133.68 L805.32 132.32 L806.16 131.22 L805.76 130.25 L804.38 130.06 L804.38 128.14 L805.76 127.95 L806.16 126.98 L805.32 125.88 L806.68 124.52 L807.78 125.36 L808.75 124.96 L808.94 123.58 L810.86 123.58 L811.05 124.96 L812.02 125.36 L813.12 124.52 L814.48 125.88 L813.64 126.98 Z" fill="#4ab8d8"/><circle cx="809.9" cy="129.1" r="2.3" fill="#fff"/>
<path d="M806.42 140.27 L808.10 140.47 L808.10 142.73 L806.42 142.93 L805.95 144.06 L807.00 145.40 L805.40 147.00 L804.06 145.95 L802.93 146.42 L802.73 148.10 L800.47 148.10 L800.27 146.42 L799.14 145.95 L797.80 147.00 L796.20 145.40 L797.25 144.06 L796.78 142.93 L795.10 142.73 L795.10 140.47 L796.78 140.27 L797.25 139.14 L796.20 137.80 L797.80 136.20 L799.14 137.25 L800.27 136.78 L800.47 135.10 L802.73 135.10 L802.93 136.78 L804.06 137.25 L805.40 136.20 L807.00 137.80 L805.95 139.14 Z" fill="#f4d062"/><circle cx="801.6" cy="141.6" r="2.8" fill="#fff"/>
<path d="M819.69 139.17 L820.54 139.27 L820.54 140.53 L819.69 140.63 L819.40 141.23 L819.85 141.96 L818.87 142.74 L818.26 142.14 L817.60 142.29 L817.31 143.10 L816.09 142.82 L816.18 141.97 L815.66 141.55 L814.85 141.83 L814.30 140.70 L815.02 140.24 L815.02 139.56 L814.30 139.10 L814.85 137.97 L815.66 138.25 L816.18 137.83 L816.09 136.98 L817.31 136.70 L817.60 137.51 L818.26 137.66 L818.87 137.06 L819.85 137.84 L819.40 138.57 Z" fill="#444"/><circle cx="817.4" cy="139.9" r="1.2" fill="#fff"/>
</g>

<!-- efficiency -->
<g stroke="#1a1a1a" stroke-width="1.1" stroke-linejoin="round">
<rect x="824" y="172.3" width="5" height="8.3" fill="#b8a8b4"/>
<rect x="832.3" y="168" width="5" height="12.6" fill="#f07272"/>
<rect x="840.6" y="163.5" width="4.3" height="17.1" fill="#f4d46a"/>
<rect x="849" y="159" width="4" height="11" fill="#8ce0a8"/>
<rect x="857.2" y="154.8" width="4.2" height="15" fill="#8ebef4"/>
<path d="M824 168 Q840 158 852.4 151.4" fill="none" stroke-width="1.4"/>
<path d="M849.3 150.4 L853.5 150.6 L851.6 154.4" fill="none" stroke-width="1.4"/>
<path d="M861.67 174.72 L863.68 174.99 L863.68 177.81 L861.67 178.08 L861.08 179.51 L862.31 181.12 L860.32 183.11 L858.71 181.88 L857.28 182.47 L857.01 184.48 L854.19 184.48 L853.92 182.47 L852.49 181.88 L850.88 183.11 L848.89 181.12 L850.12 179.51 L849.53 178.08 L847.52 177.81 L847.52 174.99 L849.53 174.72 L850.12 173.29 L848.89 171.68 L850.88 169.69 L852.49 170.92 L853.92 170.33 L854.19 168.32 L857.01 168.32 L857.28 170.33 L858.71 170.92 L860.32 169.69 L862.31 171.68 L861.08 173.29 Z" fill="#f4d46a"/><circle cx="855.6" cy="176.4" r="3.6" fill="#eceef2"/>
<path d="M858.9 143.6 l1.2 2.8 l3 0.3 l-2.3 2 l0.7 3 l-2.6 -1.6 l-2.6 1.6 l0.7 -3 l-2.3 -2 l3 -0.3 z" fill="#f4d46a"/>
</g>

<!-- accuracy -->
<g stroke="#1a1a1a" stroke-width="1" stroke-linejoin="round">
<path d="M912.5 182.5 Q930 180 941 164.5" fill="none" stroke="#1a1a1a" stroke-width="4" stroke-linecap="round"/>
<path d="M912.5 182.5 Q930 180 941 164.5" fill="none" stroke="#ee6a72" stroke-width="2.6" stroke-linecap="round"/>
<path d="M937.5 163.2 L942.6 161.6 L942 167" fill="#ee6a72"/>
<path d="M912.30 176.63 L914.09 176.86 L914.09 179.34 L912.30 179.57 L911.79 180.81 L912.89 182.24 L911.14 183.99 L909.71 182.89 L908.47 183.40 L908.24 185.19 L905.76 185.19 L905.53 183.40 L904.29 182.89 L902.86 183.99 L901.11 182.24 L902.21 180.81 L901.70 179.57 L899.91 179.34 L899.91 176.86 L901.70 176.63 L902.21 175.39 L901.11 173.96 L902.86 172.21 L904.29 173.31 L905.53 172.80 L905.76 171.01 L908.24 171.01 L908.47 172.80 L909.71 173.31 L911.14 172.21 L912.89 173.96 L911.79 175.39 Z" fill="#3c4856"/><circle cx="907" cy="178.1" r="2.6" fill="#eceef2"/>
<circle cx="922.8" cy="154.8" r="2.4" fill="#6a98d8"/>
<path d="M919.5 158 Q922 157 925 158.5 L931.5 153.8 L933 155.4 L926.5 161.5 L927 167 L929.5 176 L926.8 176.8 L923.5 169 L920.5 177 L917.8 176.2 L919.5 166.5 L917 163 L914 167 L912 165.6 Z" fill="#6a98d8"/>
<path d="M937.7 145 l1 2.2 l2.4 0.2 l-1.8 1.6 l0.6 2.4 l-2.2 -1.3 l-2.2 1.3 l0.6 -2.4 l-1.8 -1.6 l2.4 -0.2 z" fill="#f4d46a"/>
<path d="M903 145 l0.6 1.4 l1.4 0.6 l-1.4 0.6 l-0.6 1.4 l-0.6 -1.4 l-1.4 -0.6 l1.4 -0.6 z M907 148 l0.5 1.1 l1.1 0.5 l-1.1 0.5 l-0.5 1.1 l-0.5 -1.1 l-1.1 -0.5 l1.1 -0.5 z M940 181 l0.5 1.1 l1.1 0.5 l-1.1 0.5 l-0.5 1.1 l-0.5 -1.1 l-1.1 -0.5 l1.1 -0.5 z" fill="#fff" stroke-width="0.5"/>
</g>

<!-- lightbulb -->
<g stroke="#1a1a1a" stroke-width="0.9" stroke-linejoin="round">
<path d="M968.29 111.55 L970.19 111.79 L970.19 114.41 L968.29 114.65 L967.75 115.96 L968.92 117.47 L967.07 119.32 L965.56 118.15 L964.25 118.69 L964.01 120.59 L961.39 120.59 L961.15 118.69 L959.84 118.15 L958.33 119.32 L956.48 117.47 L957.65 115.96 L957.11 114.65 L955.21 114.41 L955.21 111.79 L957.11 111.55 L957.65 110.24 L956.48 108.73 L958.33 106.88 L959.84 108.05 L961.15 107.51 L961.39 105.61 L964.01 105.61 L964.25 107.51 L965.56 108.05 L967.07 106.88 L968.92 108.73 L967.75 110.24 Z" fill="#d8e4f8"/><circle cx="962.7" cy="113.1" r="3" fill="#fff"/>
<path d="M972.5 94 Q963 94 962.6 103.5 Q962.6 109 967 112.5 Q969.5 115 969.8 118.5 L970.2 122 H978.8 L979 118 Q979.5 115 982 112 L979 95 Q976 94 972.5 94 Z" fill="#e8a23a"/>
<path d="M971 122 H978.6 V127.6 Q978.6 129.2 977 129.2 H972.6 Q971 129.2 971 127.6 Z" fill="#f4f4f4"/>
<path d="M971 124.2 H978.6 M971 126.4 H978.6" stroke-width="0.6"/>
<path d="M967 100 Q965.5 104 967.5 108" fill="none" stroke-width="0.8"/>
<path d="M992.98 99.11 L995.60 100.00 L994.84 103.71 L992.09 103.50 L990.94 105.21 L992.16 107.69 L989.01 109.78 L987.21 107.69 L985.19 108.08 L984.30 110.70 L980.59 109.94 L980.80 107.19 L979.09 106.04 L976.61 107.26 L974.52 104.11 L976.61 102.31 L976.22 100.29 L973.60 99.40 L974.36 95.69 L977.11 95.90 L978.26 94.19 L977.04 91.71 L980.19 89.62 L981.99 91.71 L984.01 91.32 L984.90 88.70 L988.61 89.46 L988.40 92.21 L990.11 93.36 L992.59 92.14 L994.68 95.29 L992.59 97.09 Z" fill="#4ab8d8"/><circle cx="984.6" cy="99.7" r="4.5" fill="#e8a23a"/>
<path d="M956.5 95 l3.6 2.2 M955 101 l3.8 -0.8 M962.6 88 l0.8 3.6 M989.5 114 h3.2 M988.5 118.5 l2.8 2.2" fill="none" stroke-width="1.3" stroke="#111"/>
</g>

<!-- medal -->
<g>
<path d="M230.4 549.5 V559 L233 556.8 L235.3 559 V549.5 Z" fill="#ee6a78"/>
<path d="M235.3 549.5 V559 L237.6 556.8 L240 559 V549.5 Z" fill="#d84870"/>
<path d="M246.30 539.10 A2.75 2.75 0 0 1 245.17 544.05 A2.75 2.75 0 0 1 242.01 548.01 A2.75 2.75 0 0 1 237.44 550.21 A2.75 2.75 0 0 1 232.36 550.21 A2.75 2.75 0 0 1 227.79 548.01 A2.75 2.75 0 0 1 224.63 544.05 A2.75 2.75 0 0 1 223.50 539.10 A2.75 2.75 0 0 1 224.63 534.15 A2.75 2.75 0 0 1 227.79 530.19 A2.75 2.75 0 0 1 232.36 527.99 A2.75 2.75 0 0 1 237.44 527.99 A2.75 2.75 0 0 1 242.01 530.19 A2.75 2.75 0 0 1 245.17 534.15 A2.75 2.75 0 0 1 246.30 539.10 Z" fill="#f8cc54"/>
<path d="M234.9 526.6 A12.5 12.5 0 0 1 234.9 551.6 Z" fill="#f2b644" clip-path="url(#medclip)"/>
<clipPath id="medclip"><path d="M246.30 539.10 A2.75 2.75 0 0 1 245.17 544.05 A2.75 2.75 0 0 1 242.01 548.01 A2.75 2.75 0 0 1 237.44 550.21 A2.75 2.75 0 0 1 232.36 550.21 A2.75 2.75 0 0 1 227.79 548.01 A2.75 2.75 0 0 1 224.63 544.05 A2.75 2.75 0 0 1 223.50 539.10 A2.75 2.75 0 0 1 224.63 534.15 A2.75 2.75 0 0 1 227.79 530.19 A2.75 2.75 0 0 1 232.36 527.99 A2.75 2.75 0 0 1 237.44 527.99 A2.75 2.75 0 0 1 242.01 530.19 A2.75 2.75 0 0 1 245.17 534.15 A2.75 2.75 0 0 1 246.30 539.10 Z"/></clipPath>
<circle cx="234.9" cy="539.1" r="7.2" fill="#f08a64"/>
<path d="M234.9 531.9 A7.2 7.2 0 0 1 234.9 546.3 Z" fill="#ee6a6a"/>
<path d="M231.8 539 l2.2 2.2 l4 -4" fill="none" stroke="#fff" stroke-width="1.5" stroke-linecap="round"/>
</g>

<!-- doc with X -->
<g stroke="#1a1a1a" stroke-width="0.8" stroke-linejoin="round">
<rect x="303" y="543.4" width="19" height="26" fill="#e4e4e4"/>
<path d="M305.4 541.6 H320.5 L326.3 547.4 V569.6 H305.4 Z" fill="#f4f4f4"/>
<path d="M320.5 541.6 V547.4 H326.3" fill="#ddd"/>
<path d="M308 550 H322 M308 552.3 H322 M308 554.6 H322 M308 556.9 H322 M308 559.2 H320 M308 561.5 H319 M308 563.8 H318" stroke="#555" stroke-width="0.9"/>
<circle cx="325.6" cy="562" r="8.6" fill="#f2c040" stroke-width="1"/>
<path d="M321.8 558.2 l7.6 7.6 M329.4 558.2 l-7.6 7.6" stroke="#1a1a1a" stroke-width="2.6" stroke-linecap="round"/>
<path d="M321.8 558.2 l7.6 7.6 M329.4 558.2 l-7.6 7.6" stroke="#e04848" stroke-width="1.4" stroke-linecap="round"/>
</g>

<!-- corrected flowchart -->
<g stroke="#1a1a1a" stroke-width="0.8" stroke-linejoin="round" fill="none">
<path d="M510.4 384.3 H517 M523.4 384.3 H534 A4.7 4.7 0 0 1 534 393.7 H533.2 M525.4 393.7 H517.5 M509.7 393.7 A4.7 4.9 0 0 0 509.7 403.5 H519.8 M526.2 403.5 H534 A4.9 4.9 0 0 1 534 413.3 H533.2 M525.4 413.3 H517.8"/>
<rect x="504.5" y="381.1" width="5.9" height="6.3" rx="0.8" fill="#f8c858"/>
<circle cx="520.2" cy="384.3" r="3.2" fill="#50c0f0"/>
<path d="M529.3 389.8 L533.2 393.7 L529.3 397.6 L525.4 393.7 Z" fill="#f07880"/>
<path d="M513.6 389.8 L517.5 393.7 L513.6 397.6 L509.7 393.7 Z" fill="#90d070"/>
<circle cx="523" cy="403.5" r="3.2" fill="#f8c858"/>
<path d="M529.3 409.4 L533.2 413.3 L529.3 417.2 L525.4 413.3 Z" fill="#f07880"/>
<rect x="504.5" y="410.5" width="13.3" height="5.6" rx="1" fill="#50c0f0"/>
<circle cx="514" cy="384.3" r="0.8" fill="#1a1a1a"/><circle cx="527.5" cy="384.3" r="0.8" fill="#1a1a1a"/>
<circle cx="520.6" cy="393.7" r="0.8" fill="#1a1a1a"/><circle cx="514" cy="403.5" r="0.8" fill="#1a1a1a"/>
<circle cx="529" cy="403.5" r="0.8" fill="#1a1a1a"/><circle cx="521.5" cy="413.3" r="0.8" fill="#1a1a1a"/>
</g>

<!-- monitor -->
<g>
<rect x="587" y="498.5" width="11.2" height="6" fill="#3a4878"/>
<rect x="584.4" y="504.2" width="16.5" height="2.8" rx="1.2" fill="#4a5898"/>
<rect x="572.4" y="466.6" width="40.5" height="32.4" rx="3.2" fill="#4a5898"/>
<rect x="575.5" y="469.6" width="34.7" height="22.4" rx="1" fill="#84c2f2"/>
<rect x="577.8" y="463.1" width="30.1" height="27" fill="#ebebfa"/>
<rect x="577.8" y="463.1" width="30.1" height="4.2" fill="#72c872"/>
<rect x="579.9" y="473.9" width="2.8" height="6.1" fill="#62b0ee"/>
<rect x="584" y="470" width="3" height="10" fill="#f4cc44"/>
<rect x="588.4" y="472.3" width="2.7" height="7.7" fill="#e86050"/>
<circle cx="599.8" cy="483.9" r="4.6" fill="#e05848"/>
<path d="M599.8 483.9 V479.3 A4.6 4.6 0 0 1 604.4 483.9 Z" fill="#80c4f0"/>
<path d="M580 484 H590 M580 486.5 H590 M580 489 H587 M593 471 H605 M593 473.5 H605 M593 476 H600" stroke="#b0b0f0" stroke-width="0.7"/>
<circle cx="592.3" cy="495.6" r="0.9" fill="#2a3458"/>
</g>

<!-- trash -->
<g stroke="#111" stroke-width="1.15" stroke-linejoin="round" fill="#e8e8e8">
<path d="M506.9 557.3 H532.8 L530.6 582 H508.7 Z"/>
<path d="M513.7 560.5 L514 578.3 M519.4 560.5 V578.3 M525.5 560.5 L525.1 578.3" fill="none" stroke-width="1.1"/>
<g transform="rotate(10 520 552)">
<rect x="506" y="549.6" width="28.5" height="4.6" rx="1.5"/>
<rect x="516" y="546.4" width="9.4" height="3.4" rx="1.4"/>
</g>
</g>

<!-- ===== CAPTION ===== -->
<text class="cap" x="32.4" y="658.2" word-spacing="0.97">Figure 2: The procedural memory framework consists of <tspan font-weight="bold">Build</tspan>, <tspan font-weight="bold">Retrieve</tspan>, and <tspan font-weight="bold">Update</tspan>, which respectively involve encoding</text>
<text class="cap" x="32.4" y="678.8">stored procedural memory, forming new procedural memories, and modifying existing ones in light of new experiences.</text>
</svg>
</body></html>
